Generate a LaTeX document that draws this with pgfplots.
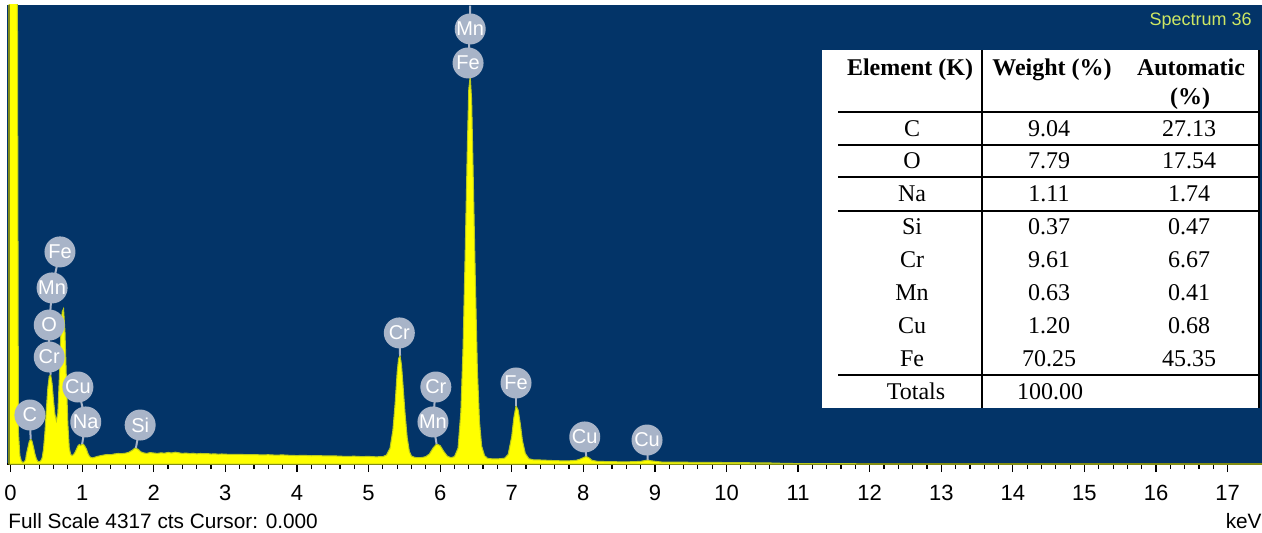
\documentclass[border=0pt]{standalone}
\usepackage{pgfplots}
\usepackage{pgfplotstable}
\pgfplotsset{compat=1.18}
\usepackage{fontspec}
\setmainfont{Liberation Serif}
\newfontfamily\arialfont{Liberation Sans}
\definecolor{bgblue}{RGB}{3,52,104}
\definecolor{specyellow}{RGB}{255,255,0}
\definecolor{specedge}{RGB}{185,200,30}
\definecolor{lblfill}{RGB}{168,180,200}
\definecolor{spectxt}{RGB}{205,230,100}

\pgfplotstableread{
kev counts
-0.02 6000
0.09 6000
0.11 300
0.13 80
0.15 30
0.17 15
0.19 20
0.21 40
0.22 90
0.24 150
0.26 210
0.28 237
0.30 215
0.32 160
0.34 95
0.36 50
0.38 25
0.40 20
0.42 30
0.44 55
0.46 140
0.48 300
0.50 520
0.52 720
0.54 830
0.56 845
0.58 760
0.60 600
0.62 470
0.64 410
0.66 480
0.68 800
0.70 1200
0.72 1440
0.74 1470
0.76 1250
0.78 800
0.80 380
0.82 150
0.84 90
0.86 80
0.88 90
0.90 110
0.92 140
0.94 170
0.96 185
0.98 175
1.00 190
1.02 185
1.04 165
1.06 140
1.08 100
1.10 75
1.12 62
1.15 58
1.20 70
1.25 78
1.30 85
1.35 90
1.40 88
1.45 95
1.50 100
1.55 98
1.60 102
1.65 110
1.70 130
1.74 152
1.78 140
1.82 115
1.86 105
1.90 100
1.95 108
2.00 104
2.05 100
2.10 106
2.15 102
2.20 110
2.25 104
2.30 112
2.35 106
2.40 100
2.45 104
2.50 98
2.55 102
2.60 96
2.65 100
2.70 97
2.75 99
2.80 94
2.85 97
2.90 92
2.95 95
3.00 93
3.10 90
3.20 92
3.30 88
3.40 90
3.50 86
3.60 88
3.70 84
3.80 86
3.90 82
4.00 80
4.10 82
4.20 78
4.30 80
4.40 76
4.50 78
4.60 74
4.70 72
4.80 74
4.90 70
5.00 72
5.10 68
5.20 70
5.25 85
5.30 150
5.34 320
5.37 560
5.40 870
5.42 1000
5.44 1025
5.46 940
5.48 760
5.51 480
5.54 250
5.57 120
5.60 75
5.65 62
5.70 60
5.75 62
5.80 70
5.85 95
5.90 150
5.95 190
6.00 175
6.05 120
6.10 75
6.15 60
6.20 70
6.25 150
6.29 500
6.32 1100
6.35 2000
6.38 3000
6.40 3550
6.42 3670
6.44 3450
6.46 2800
6.49 1800
6.52 900
6.55 400
6.58 170
6.62 80
6.66 55
6.70 50
6.80 48
6.90 55
6.95 90
7.00 260
7.03 440
7.06 550
7.09 510
7.12 380
7.15 220
7.19 100
7.24 50
7.30 40
7.40 38
7.50 35
7.60 32
7.70 30
7.80 30
7.90 35
7.95 45
8.00 60
8.04 72
8.08 58
8.12 35
8.20 25
8.40 22
8.60 20
8.80 25
8.90 38
8.95 30
9.10 18
9.40 17
9.70 15
10.00 14
10.30 12
10.60 10
10.80 6
11.00 4
11.50 3
12.00 2
13.00 1
14.00 1
15.00 0.5
17.50 0.5
}\spectrum

\tikzset{
  lbl/.style={circle, fill=lblfill, text=white, inner sep=0pt, minimum size=15.5pt,
    font=\arialfont\fontsize{10}{10}\selectfont},
  stem/.style={draw=lblfill, line width=1pt},
}

\begin{document}
\begin{tikzpicture}[x=0.5pt,y=-0.5pt]
\path[use as bounding box] (0,0) rectangle (1262,533);
\fill[white] (0,0) rectangle (1262,533);
\begin{axis}[
  at={(3.5pt,-232pt)}, anchor=south west,
  scale only axis, width=627.5pt, height=229.5pt,
  xmin=-0.05, xmax=17.48, ymin=0, ymax=4346,
  axis background/.style={fill=bgblue},
  axis x line*=bottom, axis y line=none,
  x axis line style={-, black, line width=0.6pt},
  xtick={0,1,...,17},
  xticklabels={0,1,2,3,4,5,6,7,8,9,10,11,12,13,14,15,16,17},
  minor x tick num=4,
  tick align=outside,
  major tick length=4pt, minor tick length=2.5pt,
  xtick style={black, line width=0.6pt},
  ytick=\empty,
  xticklabel style={font=\arialfont\fontsize{11}{12}\selectfont, text=black, yshift=-3pt},
  clip mode=individual,
]
\addplot[fill=specyellow, draw=specedge, line width=0.5pt] table[x=kev, y=counts] {\spectrum} \closedcycle;

% stems
\draw[stem] (axis cs:0.28,237) -- (axis cs:0.27,464);
\draw[stem] (axis cs:1.00,190) -- (axis cs:1.05,398) -- (axis cs:0.94,729);
\draw[stem] (axis cs:0.56,845) -- (axis cs:0.54,1013) -- (axis cs:0.54,1316) -- (axis cs:0.58,1667) -- (axis cs:0.69,2008);
\draw[stem] (axis cs:1.75,150) -- (axis cs:1.81,369);
\draw[stem] (axis cs:5.44,1025) -- (axis cs:5.43,1241);
\draw[stem] (axis cs:5.95,190) -- (axis cs:5.90,398) -- (axis cs:5.94,729);
\draw[stem] (axis cs:6.42,3670) -- (axis cs:6.39,3797) -- (axis cs:6.42,4119) -- (axis cs:6.42,4340);
\draw[stem] (axis cs:7.06,550) -- (axis cs:7.06,767);
\draw[stem] (axis cs:8.04,72) -- (axis cs:8.02,256);
\draw[stem] (axis cs:8.90,38) -- (axis cs:8.89,227);
% labels
\node[lbl] at (axis cs:0.27,464) {C};
\node[lbl] at (axis cs:1.05,398) {Na};
\node[lbl] at (axis cs:0.94,729) {Cu};
\node[lbl] at (axis cs:0.54,1013) {Cr};
\node[lbl] at (axis cs:0.54,1316) {O};
\node[lbl] at (axis cs:0.58,1667) {Mn};
\node[lbl] at (axis cs:0.69,2008) {Fe};
\node[lbl] at (axis cs:1.81,369) {Si};
\node[lbl] at (axis cs:5.43,1241) {Cr};
\node[lbl] at (axis cs:5.90,398) {Mn};
\node[lbl] at (axis cs:5.94,729) {Cr};
\node[lbl] at (axis cs:6.39,3797) {Fe};
\node[lbl] at (axis cs:6.42,4119) {Mn};
\node[lbl] at (axis cs:7.06,767) {Fe};
\node[lbl] at (axis cs:8.02,256) {Cu};
\node[lbl] at (axis cs:8.89,227) {Cu};
\end{axis}

% left edge line of the zero peak
\draw[specedge!70!black, line width=1pt] (8.5,5) -- (8.5,464);

% spectrum name
\node[anchor=base east, text=spectxt, font=\arialfont\fontsize{9}{10}\selectfont, inner sep=0pt] at (1252,26) {Spectrum 36};

% table
\fill[white] (822,50) rectangle (1260,408);
\begin{scope}[line width=0.8pt]
\draw (838,112) -- (1258,112);
\draw (838,145) -- (1258,145);
\draw (838,177) -- (1258,177);
\draw (838,211) -- (1258,211);
\draw (838,375) -- (1258,375);
\draw (982,50) -- (982,408);
\draw (1259,50) -- (1259,408);
\end{scope}
\begin{scope}[every node/.style={inner sep=0pt, anchor=base, font=\fontsize{12}{14}\selectfont}]
\node[font=\bfseries\fontsize{12}{14}\selectfont] at (910,76) {Element (K)};
\node[font=\bfseries\fontsize{12}{14}\selectfont] at (1052,76) {Weight (\%)};
\node[font=\bfseries\fontsize{12}{14}\selectfont] at (1191,76) {Automatic};
\node[font=\bfseries\fontsize{12}{14}\selectfont] at (1190,105) {(\%)};
\node at (912,137) {C};      \node at (1049,137) {9.04};  \node at (1189,137) {27.13};
\node at (912,169) {O};      \node at (1049,169) {7.79};  \node at (1189,169) {17.54};
\node at (912,202) {Na};     \node at (1049,202) {1.11};  \node at (1189,202) {1.74};
\node at (912,235) {Si};     \node at (1049,235) {0.37};  \node at (1189,235) {0.47};
\node at (912,268) {Cr};     \node at (1049,268) {9.61};  \node at (1189,268) {6.67};
\node at (912,301) {Mn};     \node at (1049,301) {0.63};  \node at (1189,301) {0.41};
\node at (912,334) {Cu};     \node at (1049,334) {1.20};  \node at (1189,334) {0.68};
\node at (912,367) {Fe};     \node at (1049,367) {70.25}; \node at (1189,367) {45.35};
\node at (916,400) {Totals}; \node at (1050,400) {100.00};
\end{scope}

% bottom texts
\node[anchor=base west, inner sep=0pt, font=\arialfont\fontsize{10.4}{12}\selectfont] at (8,528) {Full Scale 4317 cts Cursor: 0.000};
\node[anchor=base east, inner sep=0pt, font=\arialfont\fontsize{10.4}{12}\selectfont] at (1262,528) {keV};
\end{tikzpicture}
\end{document}
